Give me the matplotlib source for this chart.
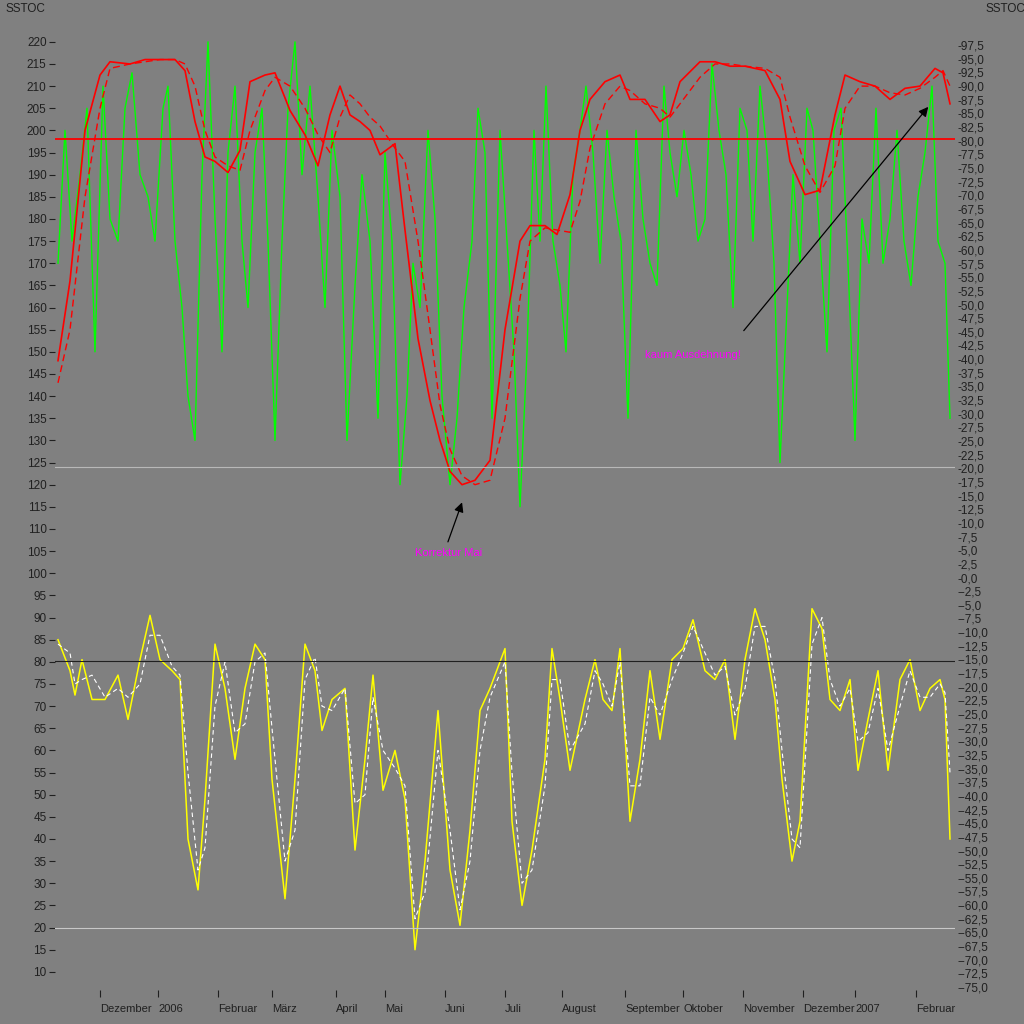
import numpy as np
import matplotlib
matplotlib.use('Agg')
import matplotlib.pyplot as plt

plt.rcParams['font.family'] = ['Liberation Sans', 'DejaVu Sans']

# x positions are in "chart days" (roughly pixel columns of the original)
red_x = [58, 70, 85, 100, 110, 130, 145, 160, 175, 185, 195, 205, 215, 228, 240, 250, 265, 275,
         290, 305, 318, 330, 340, 350, 360, 370, 380, 395, 405, 418, 430, 440, 450, 462, 475, 490,
         505, 520, 530, 545, 557, 570, 580, 590, 605, 620, 630, 645, 660, 670, 680, 700, 715, 730,
         745, 765, 780, 790, 805, 820, 835, 845, 860, 875, 890, 905, 920, 935, 943, 950]
red_solid = [148, 166, 200, 212.5, 215.5, 215, 216, 216, 216, 213.5, 202, 194, 193, 190.5, 195.5,
             211, 212.5, 213, 204.5, 199, 192, 203.5, 210, 203.5, 202, 200, 194.5, 197, 177.5, 153,
             139, 130, 123, 120, 121, 125.5, 155, 175, 178.5, 178.5, 176.5, 185.5, 200, 207, 211,
             212.5, 207, 207, 202, 203.5, 211, 215.5, 215.5, 214.5, 214.5, 213.5, 207, 193, 185.5,
             186.5, 203.5, 212.5, 211, 210, 207, 209.5, 210, 214, 213, 206]
red_dashed = [143, 155, 185, 205, 214, 215, 215.5, 216, 216, 215, 210, 200, 194, 192, 191, 200,
              209, 212, 210, 205, 199, 195, 203, 208, 206, 203, 201, 196, 193, 175, 155, 138,
              128, 122, 120, 121, 135, 162, 175, 178, 177.5, 177, 184, 196, 206, 210, 209,
              206, 205, 203, 206, 212, 215, 215, 214.5, 214, 212, 203, 192, 186, 192, 205,
              210, 210, 208.5, 208, 209.5, 212, 213.5, 210]

green_x = [58, 65, 72, 80, 87, 95, 103, 110, 118, 125, 132, 140, 148, 155, 163, 168, 175, 182, 188,
           195, 202, 208, 215, 222, 228, 235, 242, 248, 255, 262, 268, 275, 282, 288, 295, 302, 310,
           318, 325, 332, 340, 347, 355, 362, 370, 378, 385, 392, 400, 407, 413, 420, 428, 435, 442,
           450, 457, 464, 472, 478, 485, 492, 500, 507, 514, 520, 527, 534, 540, 546, 553, 560, 566,
           573, 580, 586, 593, 600, 607, 614, 621, 628, 636, 643, 650, 657, 664, 670, 677, 684, 691,
           698, 705, 712, 719, 726, 733, 740, 747, 753, 760, 767, 774, 780, 787, 793, 800, 807, 813,
           820, 827, 834, 841, 848, 855, 862, 869, 876, 883, 890, 897, 904, 911, 918, 925, 932, 938,
           945, 950]
green = [170, 200, 175, 190, 205, 150, 210, 180, 175, 205, 213, 190, 185, 175, 205, 210, 175, 160,
         140, 130, 190, 220, 180, 150, 195, 210, 175, 160, 195, 205, 175, 130, 175, 205, 220, 190,
         210, 185, 160, 200, 185, 130, 165, 190, 175, 135, 195, 175, 120, 140, 170, 160, 200, 180,
         140, 120, 135, 160, 175, 205, 195, 135, 200, 175, 150, 115, 150, 200, 175, 210, 175, 165,
         150, 190, 200, 210, 195, 170, 200, 185, 175, 135, 200, 180, 170, 165, 210, 195, 185, 200,
         190, 175, 180, 215, 200, 190, 160, 205, 200, 175, 210, 195, 170, 125, 160, 190, 170, 205,
         200, 175, 150, 200, 205, 170, 130, 180, 170, 205, 170, 180, 200, 175, 165, 185, 195, 210,
         175, 170, 135]

yel_x = [58, 70, 75, 82, 92, 105, 118, 128, 140, 150, 160, 172, 180, 188, 198, 205, 215, 225, 235,
         245, 255, 265, 272, 285, 295, 305, 315, 322, 332, 345, 355, 365, 373, 383, 395, 405, 415,
         425, 438, 450, 460, 470, 480, 490, 505, 512, 522, 532, 545, 552, 560, 570, 585, 595, 603,
         612, 620, 630, 640, 650, 660, 672, 683, 693, 705, 715, 725, 735, 745, 755, 765, 775, 782,
         792, 800, 812, 822, 830, 840, 850, 858, 868, 878, 888, 900, 910, 920, 930, 940, 945, 950]
yellow = [85, 78, 72.5, 80.5, 71.5, 71.5, 77, 67, 80.5, 90.5, 80.5, 78, 76, 40, 28.5, 49, 84, 74,
          58, 74, 84, 80.5, 53.5, 26.5, 53.5, 84, 78, 64.5, 71.5, 74, 37.5, 58, 77, 51, 60, 49, 15,
          35, 69, 33, 20.5, 42, 69, 74, 83, 44, 25, 37.5, 58, 83, 71.5, 55.5, 71.5, 80.5, 71.5, 69,
          83, 44, 58, 78, 62.5, 80.5, 83, 89.5, 78, 76, 80.5, 62.5, 80.5, 92, 85, 71.5, 53.5, 35,
          44, 92, 87.5, 71.5, 69, 76, 55.5, 67, 78, 55.5, 76, 80.5, 69, 74, 76, 71.5, 40]
yellow_dashed = [84, 82, 75, 76, 77, 72, 74, 72, 75, 86, 86, 79, 77, 55, 33, 38, 70, 80, 64, 66,
                 80, 82, 65, 35, 42, 76, 81, 70, 69, 74, 48, 50, 72, 60, 56, 52, 22, 28, 60, 42,
                 24, 35, 60, 72, 80, 55, 30, 33, 52, 76, 76, 60, 66, 78, 75, 70, 80, 52, 52, 72,
                 68, 76, 82, 88, 82, 77, 79, 68, 74, 88, 88, 76, 60, 40, 38, 84, 90, 76, 70, 74,
                 62, 64, 74, 60, 70, 78, 72, 72, 75, 73, 55]

month_pos = [100, 158, 218, 272, 336, 385, 445, 505, 562, 625, 683, 743, 803, 855, 916]
month_lbl = ['Dezember', '2006', 'Februar', 'März', 'April', 'Mai', 'Juni', 'Juli', 'August',
             'September', 'Oktober', 'November', 'Dezember', '2007', 'Februar']

bg = '#808080'
fig = plt.figure(figsize=(10.24, 10.24), dpi=100, facecolor=bg)
ax = fig.add_axes([55 / 1024, 34 / 1024, 900 / 1024, 965 / 1024], facecolor=bg)
ax.set_xlim(55, 955)
ax.set_ylim(5.9, 223.8)

# green raw oscillator
ax.plot(green_x, green, color='#00ff00', linewidth=1.0)

ax.plot(red_x, red_solid, color='#ff0000', linewidth=1.2)
ax.plot(red_x, red_dashed, color='#ff0000', linewidth=1.0, linestyle=(0, (5, 3)))
ax.plot(yel_x, yellow, color='#ffff00', linewidth=1.1)
ax.plot(yel_x, yellow_dashed, color='#ffffff', linewidth=0.8, linestyle=(0, (4, 3)))

ax.axhline(198, color='#ff0000', linewidth=1.3)
ax.axhline(124, color='#b8b8b8', linewidth=0.8)
ax.axhline(80.3, color='#202020', linewidth=0.8)
ax.axhline(20, color='#c8c8c8', linewidth=0.8)

ax.annotate('', xy=(930, 205.8), xytext=(742, 154.3),
            arrowprops=dict(arrowstyle='-|>', color='black', lw=0.9, mutation_scale=14))
ax.text(645, 149.3, 'kaum Ausdehnung!', color='#ff00ff', fontsize=8, va='center')
ax.annotate('', xy=(463, 116.6), xytext=(447, 106.5),
            arrowprops=dict(arrowstyle='-|>', color='black', lw=0.9, mutation_scale=14))
ax.text(415, 104.6, 'Korrektur Mai', color='#ff00ff', fontsize=8, va='center')

for s in ax.spines.values():
    s.set_visible(False)

ax.set_yticks(np.arange(10, 221, 5))
ax.tick_params(axis='y', colors='#202020', labelsize=8.5, length=4, direction='out', pad=2)
ax.set_xticks(month_pos)
ax.set_xticklabels(month_lbl, ha='left')
ax.tick_params(axis='x', colors='#202020', labelsize=8, length=5, pad=5)

ax2 = ax.twinx()
ax2.set_ylim(-75.55, 101.2)
rt = np.arange(-75, 97.6, 2.5)
ax2.set_yticks(rt)
ax2.set_yticklabels([f'-{v:.1f}'.replace('.', ',') for v in rt])
ax2.tick_params(axis='y', colors='#202020', labelsize=8.5, length=0, pad=2)
for s in ax2.spines.values():
    s.set_visible(False)

fig.text(5 / 1024, 1 - 9 / 1024, 'SSTOC', fontsize=8.5, color='#202020', va='center')
fig.text(985 / 1024, 1 - 9 / 1024, 'SSTOC', fontsize=8.5, color='#202020', va='center')

fig.savefig('out.png', dpi=100, facecolor=bg)
